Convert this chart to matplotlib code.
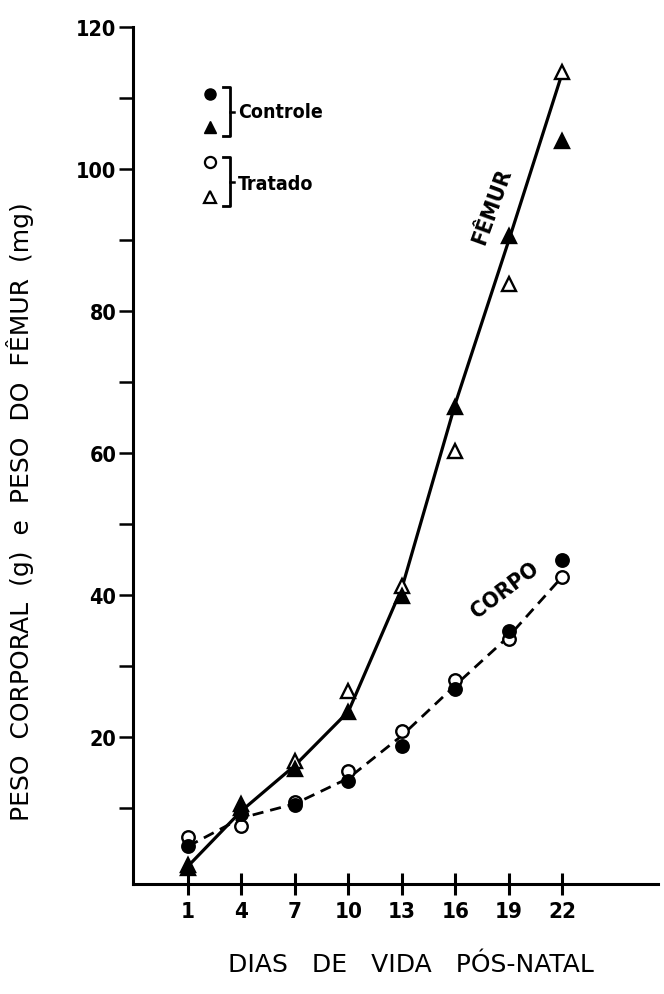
import matplotlib
matplotlib.use('Agg')
import matplotlib.pyplot as plt
from matplotlib.lines import Line2D

plt.rcParams['font.family'] = ['DejaVu Sans']
plt.rcParams['font.stretch'] = 'condensed'

## days of post-natal life
dias = [1, 4, 7, 10, 13, 16, 19, 22]

## femur weight (mg)
femur_controle = [1.5, 10.0, 15.5, 23.5, 39.8, 66.5, 90.6, 104.0]
femur_tratado = [2.0, 10.5, 16.6, 26.5, 41.3, 60.3, 83.8, 113.6]
femur_curva = [1.8, 9.6, 16.0, 23.6, 41.0, 67.0, 90.0, 113.6]

## body weight (g)
corpo_controle = [4.6, 9.2, 10.4, 13.8, 18.7, 26.8, 35.0, 44.9]
corpo_tratado = [5.9, 7.4, 10.8, 15.2, 20.8, 28.0, 33.8, 42.6]
corpo_curva = [4.6, 8.6, 10.6, 14.2, 20.2, 27.3, 34.2, 42.6]

yticks = [20, 40, 60, 80, 100, 120]
yminor = [10, 30, 50, 70, 90, 110]

fig = plt.figure(figsize=(6.64, 9.95), dpi=100)
ax = fig.add_axes([133/664, 1-885/995, 525/664, 857/995])

## curves
ax.plot(dias, femur_curva, color='black', lw=2.3, zorder=2)
ax.plot(dias, corpo_curva, color='black', lw=2.0, ls=(0, (4, 2.5)), zorder=2)

## points
ax.plot(dias, femur_tratado, ls='none', marker='^', ms=9.5, mfc='white', mec='black', mew=1.7, zorder=3)
ax.plot(dias, femur_controle, ls='none', marker='^', ms=9.5, mfc='black', mec='black', mew=1.7, zorder=4)
ax.plot(dias, corpo_tratado, ls='none', marker='o', ms=9, mfc='white', mec='black', mew=1.7, zorder=3)
ax.plot(dias, corpo_controle, ls='none', marker='o', ms=9, mfc='black', mec='black', mew=1.7, zorder=4)

ax.set_xlim(-2.08, 27.36)
ax.set_ylim(-0.7, 120)

for s in ('top', 'right'):
    ax.spines[s].set_visible(False)
for s in ('left', 'bottom'):
    ax.spines[s].set_linewidth(2.2)

ax.set_xticks(dias)
ax.set_xticklabels([str(d) for d in dias], fontsize=16, fontweight='bold')
ax.tick_params(axis='x', direction='inout', length=16, width=2.2, pad=4)
ax.set_yticks(yticks)
ax.set_yticklabels([str(v) for v in yticks], fontsize=15.5, fontweight='bold')
ax.set_yticks(yminor, minor=True)
ax.tick_params(axis='y', which='both', direction='out', length=10, width=1.8, pad=2)

## curve labels
ax.text(18.05, 94.9, 'FÊMUR', rotation=70, fontsize=16, fontweight='bold',
        ha='center', va='center')
ax.text(18.8, 40.8, 'CORPO', rotation=37, fontsize=16, fontweight='bold',
        ha='center', va='center')

## legend drawn by hand, like the original
ax.plot([0.1467], [0.9218], transform=ax.transAxes, marker='o', ms=8, mfc='black', mec='black', clip_on=False)
ax.plot([0.1467], [0.8833], transform=ax.transAxes, marker='^', ms=8.5, mfc='black', mec='black', clip_on=False)
ax.plot([0.1467], [0.8425], transform=ax.transAxes, marker='o', ms=8, mfc='white', mec='black', mew=1.6, clip_on=False)
ax.plot([0.1467], [0.8016], transform=ax.transAxes, marker='^', ms=8.5, mfc='white', mec='black', mew=1.6, clip_on=False)

def bracket(y0, y1):
    x0, x1 = 223/664, 230/664
    ym = (y0 + y1) / 2
    fig.add_artist(Line2D([x0, x1, x1, x0], [1-y0/995, 1-y0/995, 1-y1/995, 1-y1/995],
                          color='black', lw=2))
    fig.add_artist(Line2D([x1, x1+4/664], [1-ym/995, 1-ym/995], color='black', lw=1.8))

bracket(88, 137)
bracket(158, 207)
fig.text(238/664, 1-112/995, 'Controle', fontsize=14, fontweight='bold', va='center', ha='left')
fig.text(238/664, 1-185/995, 'Tratado', fontsize=14, fontweight='bold', va='center', ha='left')

## axis titles
fig.text(411/664, 1-965/995, 'DIAS   DE   VIDA   PÓS-NATAL', fontsize=18, fontstretch='normal',
         ha='center', va='center')
fig.text(20/664, 1-512/995, 'PESO  CORPORAL  (g)  e  PESO  DO  FÊMUR  (mg)', fontsize=18,
         fontstretch='normal', rotation=90, ha='center', va='center')

fig.savefig('out.png', dpi=100)
